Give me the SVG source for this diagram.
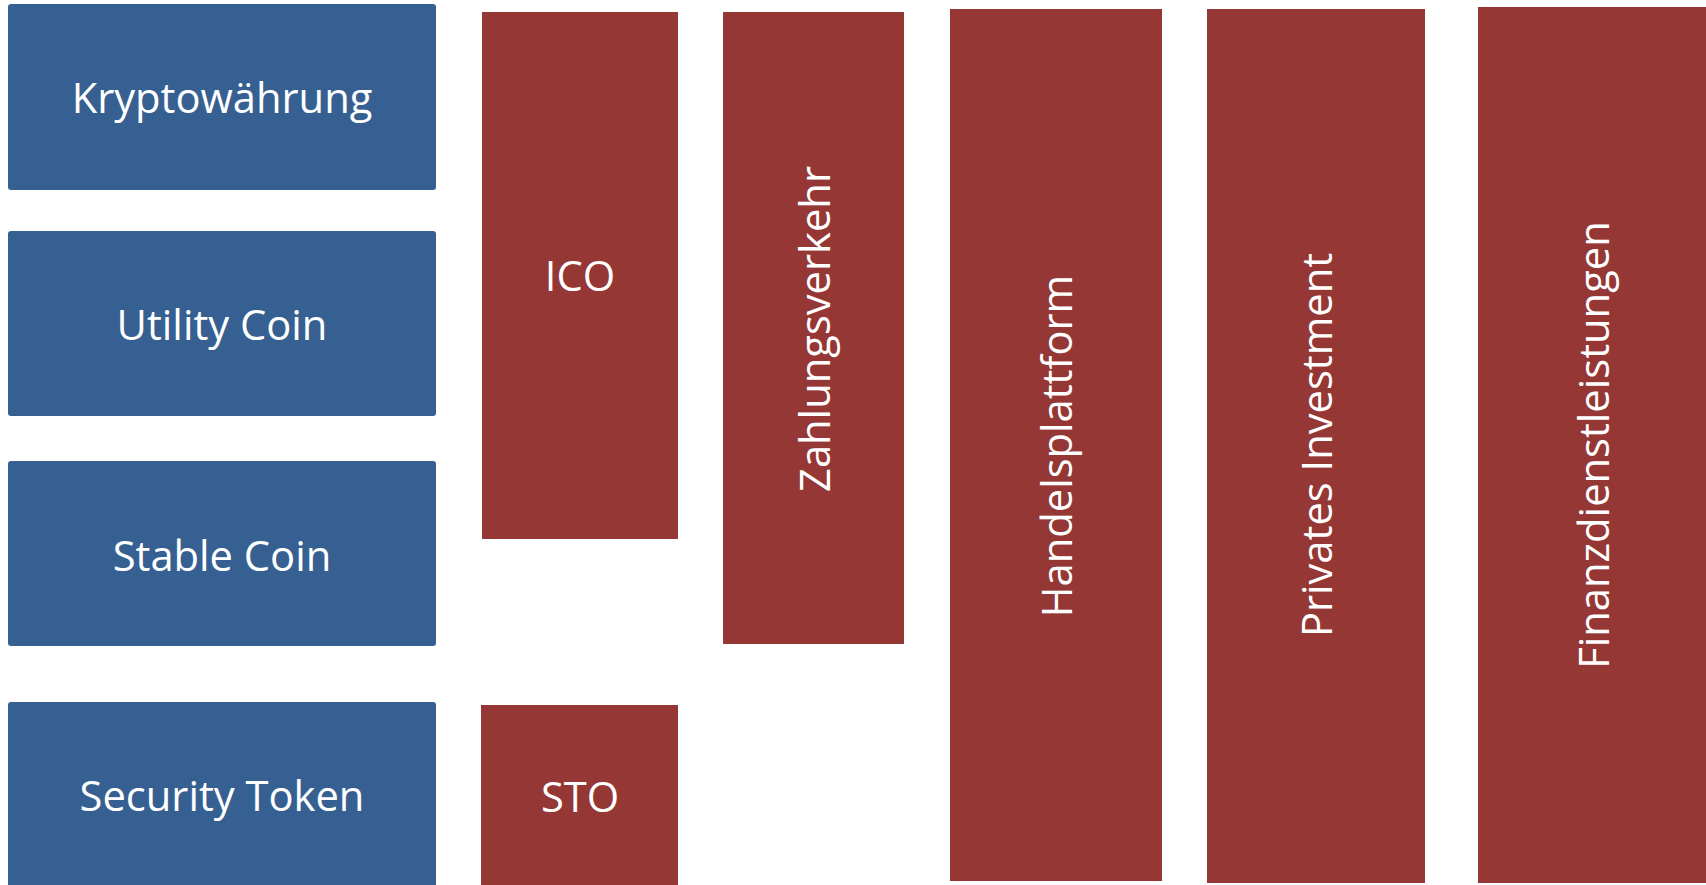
<svg xmlns="http://www.w3.org/2000/svg" width="1706" height="885" viewBox="0 0 1706 885">
<style>
.blue{fill:#376092}
.red{fill:#953735}
.t{fill:#ffffff;font-family:"Open Sans","Liberation Sans",sans-serif;font-size:41.7px;text-anchor:middle}
</style>
<rect width="1706" height="885" fill="#ffffff"/>
<g id="kryptowaehrung"><rect class="blue" x="8" y="4" width="428" height="186" rx="3"/><text class="t" x="222" y="113">Kryptowährung</text></g>
<g id="utility-coin"><rect class="blue" x="8" y="231" width="428" height="185" rx="3"/><text class="t" x="222" y="340">Utility Coin</text></g>
<g id="stable-coin"><rect class="blue" x="8" y="461" width="428" height="185" rx="3"/><text class="t" x="222" y="571">Stable Coin</text></g>
<g id="security-token"><rect class="blue" x="8" y="702" width="428" height="190" rx="3"/><text class="t" x="222" y="811">Security Token</text></g>
<g id="ico"><rect class="red" x="482" y="12" width="196" height="527"/><text class="t" x="580" y="291">ICO</text></g>
<g id="sto"><rect class="red" x="481" y="705" width="197" height="185"/><text class="t" x="580" y="812">STO</text></g>
<g id="zahlungsverkehr"><rect class="red" x="723" y="12" width="181" height="632"/><text class="t" transform="translate(813 329) rotate(-90)" x="0" y="17">Zahlungsverkehr</text></g>
<g id="handelsplattform"><rect class="red" x="950" y="9" width="212" height="872"/><text class="t" transform="translate(1056 446) rotate(-90)" x="0" y="16">Handelsplattform</text></g>
<g id="privates-investment"><rect class="red" x="1207" y="9" width="218" height="874"/><text class="t" transform="translate(1316 445) rotate(-90)" x="0" y="16">Privates Investment</text></g>
<g id="finanzdienstleistungen"><rect class="red" x="1478" y="7" width="228" height="876"/><text class="t" transform="translate(1592 445) rotate(-90)" x="0" y="17">Finanzdienstleistungen</text></g>
<g id="connectors"/>
</svg>
